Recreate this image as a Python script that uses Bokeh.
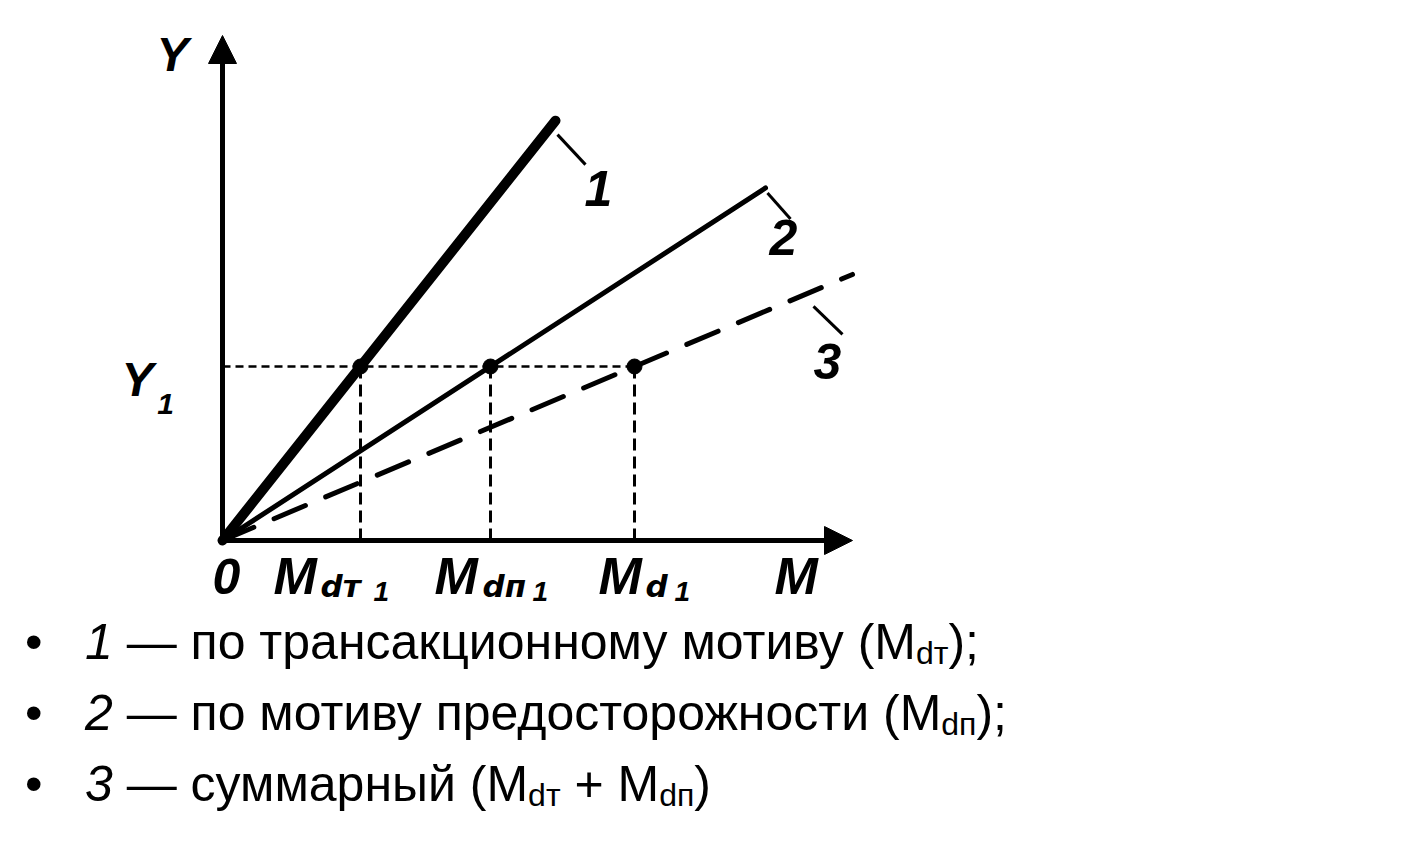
from bokeh.plotting import figure
from bokeh.models import Range1d, Arrow, NormalHead, Div
from bokeh.layouts import column
from bokeh.core.properties import value
from bokeh.embed import file_html
from bokeh.resources import INLINE

# ---------------- data ----------------
curve_names = ["1", "2", "3"]          # 1 transaction, 2 precaution, 3 total
Y1 = 174                               # income level Y1
m_at_y1 = [138, 268, 412]              # M_dт1, M_dп1, M_d1 (demand at Y1)
line_end_m = [333, 543, 630]           # where each demand line is drawn to
axis_max_m = 630
axis_max_y = 505
sub_labels = [("dт", "1"), ("dп", "1"), ("d", "1")]

slopes = [Y1 / m for m in m_at_y1]
line_end_y = [s * x for s, x in zip(slopes, line_end_m)]

W, H = 1407, 612
OX, OY = 222, 540   # origin position inside the figure (px from left / top)

p = figure(width=W, height=H, x_range=Range1d(-OX, W - OX), y_range=Range1d(-(H - OY), OY),
           output_backend="svg", toolbar_location=None, min_border=0,
           x_axis_location=None, y_axis_location=None)
p.grid.visible = False
p.outline_line_color = None
p.background_fill_color = "white"

BLACK = "black"
FONT = value("Liberation Sans")
FONT2 = value("DejaVu Sans")

# axes with arrows
p.add_layout(Arrow(end=NormalHead(size=28, fill_color=BLACK, line_color=BLACK),
                   x_start=0, y_start=0, x_end=0, y_end=axis_max_y,
                   line_width=5, line_color=BLACK))
p.add_layout(Arrow(end=NormalHead(size=28, fill_color=BLACK, line_color=BLACK),
                   x_start=0, y_start=0, x_end=axis_max_m, y_end=0,
                   line_width=5, line_color=BLACK))

# guide lines
p.line([0, m_at_y1[2]], [Y1, Y1], line_color=BLACK, line_width=2.5, line_dash="8 5")
p.segment(x0=m_at_y1, y0=[0] * 3, x1=m_at_y1, y1=[Y1] * 3,
          line_color=BLACK, line_width=3, line_dash="12 6")

# demand lines
widths = [10, 5, 5]
dashes = ["solid", "solid", "34 22"]
for i in range(3):
    p.line([0, line_end_m[i]], [0, line_end_y[i]], line_color=BLACK,
           line_width=widths[i], line_dash=dashes[i], line_cap="round")

# intersection points
p.scatter(m_at_y1, [Y1] * 3, size=15, color=BLACK)

# leader ticks and curve numbers
tick_off = [((2, -14), (30, -44)), ((2, -5), (25, -31)), ((-39, -32), (-10, -60))]
p.segment(x0=[line_end_m[i] + tick_off[i][0][0] for i in range(3)],
          y0=[line_end_y[i] + tick_off[i][0][1] for i in range(3)],
          x1=[line_end_m[i] + tick_off[i][1][0] for i in range(3)],
          y1=[line_end_y[i] + tick_off[i][1][1] for i in range(3)],
          line_color=BLACK, line_width=3)


def lab(x, y, t, dx, dy, size, align="left", font=FONT):
    p.text(x=[x], y=[y], text=[t], x_offset=dx, y_offset=dy,
           text_font=font, text_font_style="bold italic", text_font_size=size,
           text_align=align, text_baseline="alphabetic", text_color=BLACK)


num_off = [(43, 68), (18, 50), (-25, 87)]
for i in range(3):
    lab(line_end_m[i], line_end_y[i], curve_names[i], num_off[i][0], num_off[i][1],
        "50px", "center")

# axis labels
lab(0, axis_max_y, "Y", -50, 19, "48px", "center")
lab(0, Y1, "Y", -85, 13, "48px", "center")
lab(0, Y1, "1", -57, 37, "30px", "center")
lab(0, 0, "0", 4, 36, "50px", "center")
lab(axis_max_m, 0, "M", -78, 35, "52px")

m_off = [(-87, -40, 13), (-56, -8, 42), (-36, 11, 40)]
for i in range(3):
    lab(m_at_y1[i], 0, "M", m_off[i][0], 35, "52px")
    lab(m_at_y1[i], 0, sub_labels[i][0], m_off[i][1], 45, "31px", font=FONT2)
    lab(m_at_y1[i], 0, sub_labels[i][1], m_off[i][2], 51, "28px")

# bullet list
sub = '<span style="font-size:32px;line-height:0;position:relative;top:5px">{}</span>'
lines = [
    '<i>1</i> — по трансакционному мотиву (M' + sub.format("dт") + ');',
    '<i>2</i> — по мотиву предосторожности (M' + sub.format("dп") + ');',
    '<i>3</i> — суммарный (M' + sub.format("dт") + ' + M' + sub.format("dп") + ')',
]
html = ('<div style="font-family:\'Liberation Sans\',Arial,sans-serif;font-size:50px;'
        'line-height:71px;color:#000;white-space:nowrap;padding-left:20px;'
        'position:relative;top:-10px">')
for ln in lines:
    html += '<div style="height:71px"><span style="display:inline-block;width:60px">•</span>' + ln + '</div>'
html += '</div>'
div = Div(text=html, width=W, height=828 - H)

layout = column(p, div, spacing=0)
open("out.html", "w").write(file_html(layout, INLINE))
